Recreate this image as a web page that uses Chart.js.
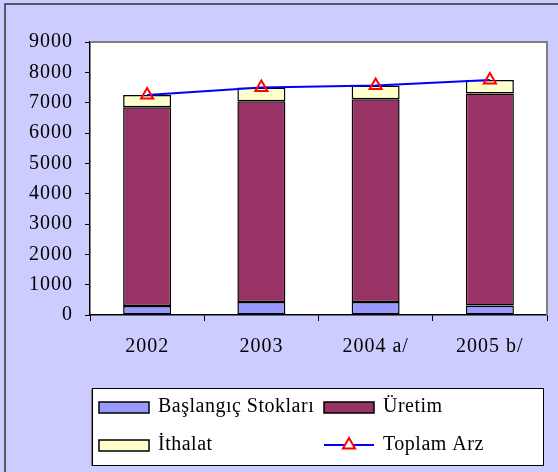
<!DOCTYPE html>
<html lang="tr">
<head>
  <meta charset="UTF-8">
  <title>Toplam Arz</title>
  <style>
    body { margin: 0; background: #ccccff; }
    #wrap { position: relative; width: 558px; height: 472px; }
  </style>
  <script src="https://cdn.jsdelivr.net/npm/chart.js"></script>
</head>
<body>
  <div id="wrap"><canvas id="chart" width="558" height="472"></canvas></div>
  <script>
    // values
    const years = ['2002', '2003', '2004 a/', '2005 b/'];
    const stoklar = [300, 430, 430, 310];
    const uretim = [6550, 6620, 6680, 6990];
    const ithalat = [400, 450, 460, 450];
    const toplamArz = [7250, 7500, 7570, 7750];
    const yTicks = [0, 1000, 2000, 3000, 4000, 5000, 6000, 7000, 8000, 9000];

    const FONT = 'Liberation Serif, Times New Roman, serif';

    // background, plot frame and legend box
    const decor = {
      id: 'decor',
      beforeDraw(chart) {
        const ctx = chart.ctx;
        const a = chart.chartArea;
        ctx.letterSpacing = '1px';
        ctx.save();
        ctx.fillStyle = '#ccccff';
        ctx.fillRect(0, 0, chart.width, chart.height);
        ctx.strokeStyle = '#333';
        ctx.lineWidth = 1.5;
        ctx.beginPath();
        ctx.moveTo(5, chart.height);
        ctx.lineTo(5, 4);
        ctx.lineTo(chart.width, 4);
        ctx.stroke();
        ctx.fillStyle = '#fff';
        ctx.fillRect(a.left, a.top, a.right - a.left, a.bottom - a.top);
        ctx.restore();
      },
      afterDatasetsDraw(chart) {
        const ctx = chart.ctx;
        const a = chart.chartArea;
        ctx.save();
        ctx.strokeStyle = '#808080';
        ctx.lineWidth = 2;
        ctx.beginPath();
        ctx.moveTo(a.left, a.top);
        ctx.lineTo(a.right, a.top);
        ctx.lineTo(a.right, a.bottom);
        ctx.stroke();
        ctx.restore();
      },
      afterDraw(chart) {
        const ctx = chart.ctx;
        ctx.save();
        // legend frame
        ctx.fillStyle = '#808080';
        ctx.fillRect(91, 389, 2, 77);
        ctx.fillStyle = '#fff';
        ctx.fillRect(92, 388, 451, 77);
        ctx.strokeStyle = '#000';
        ctx.lineWidth = 1;
        ctx.strokeRect(92.5, 388.5, 451, 77);
        const cells = [
          { ds: 0, x: 99, y: 407 },
          { ds: 1, x: 324, y: 407 },
          { ds: 2, x: 99, y: 445 },
          { ds: 3, x: 324, y: 445 }
        ];
        ctx.font = '20px ' + FONT;
        ctx.letterSpacing = '0.5px';
        ctx.textBaseline = 'middle';
        ctx.textAlign = 'left';
        cells.forEach(c => {
          const ds = chart.data.datasets[c.ds];
          if (ds.type === 'line') {
            ctx.strokeStyle = ds.borderColor;
            ctx.lineWidth = 2;
            ctx.beginPath();
            ctx.moveTo(c.x, c.y);
            ctx.lineTo(c.x + 50, c.y);
            ctx.stroke();
            const cx = c.x + 25, cy = c.y, r = 7;
            ctx.fillStyle = '#fff';
            ctx.strokeStyle = ds.pointBorderColor;
            ctx.beginPath();
            for (let i = 0; i < 3; i++) {
              const ang = i * 2 * Math.PI / 3;
              const px = cx + Math.sin(ang) * r, py = cy - Math.cos(ang) * r;
              if (i === 0) ctx.moveTo(px, py); else ctx.lineTo(px, py);
            }
            ctx.closePath();
            ctx.fill();
            ctx.stroke();
          } else {
            ctx.fillStyle = ds.backgroundColor;
            ctx.fillRect(c.x, c.y - 5, 50, 11);
            ctx.strokeStyle = '#000';
            ctx.lineWidth = 1.5;
            ctx.strokeRect(c.x, c.y - 5, 50, 11);
          }
          ctx.fillStyle = '#000';
          ctx.fillText(ds.label, c.x + 59, c.y);
        });
        ctx.restore();
      }
    };

    new Chart(document.getElementById('chart'), {
      data: {
        labels: years,
        datasets: [
          {
            type: 'bar', label: 'Başlangıç Stokları', data: stoklar, stack: 's',
            backgroundColor: '#9999ff', borderColor: '#000', borderWidth: 1.5,
            borderSkipped: false, order: 1
          },
          {
            type: 'bar', label: 'Üretim', data: uretim, stack: 's',
            backgroundColor: '#993366', borderColor: '#000', borderWidth: 1.5,
            borderSkipped: false, order: 1
          },
          {
            type: 'bar', label: 'İthalat', data: ithalat, stack: 's',
            backgroundColor: '#ffffcc', borderColor: '#000', borderWidth: 1.5,
            borderSkipped: false, order: 1
          },
          {
            type: 'line', label: 'Toplam Arz', data: toplamArz, stack: 't',
            borderColor: '#0000ff', borderWidth: 2, tension: 0,
            pointStyle: 'triangle', pointRadius: 7, pointBorderWidth: 2,
            pointBorderColor: '#ff0000', pointBackgroundColor: 'rgba(255,255,255,0)',
            order: 0
          }
        ]
      },
      options: {
        responsive: false,
        animation: false,
        layout: { padding: { top: 42, right: 11, left: 0, bottom: 0 } },
        datasets: { bar: { barPercentage: 0.42, categoryPercentage: 1 } },
        plugins: { legend: { display: false }, tooltip: { enabled: false } },
        scales: {
          x: {
            stacked: true,
            afterFit(s) { s.height = 157; },
            grid: { offset: true, drawOnChartArea: false, tickLength: 6, color: '#000', lineWidth: 1 },
            border: { color: '#000', width: 1.5 },
            ticks: { color: '#000', font: { family: FONT, size: 20 }, padding: 14 }
          },
          y: {
            stacked: true,
            min: 0, max: 9000,
            afterFit(s) { s.width = 90; },
            afterBuildTicks(s) { s.ticks = yTicks.map(v => ({ value: v })); },
            grid: { drawOnChartArea: false, tickLength: 5, color: '#000', lineWidth: 1 },
            border: { color: '#000', width: 1.5 },
            ticks: {
              color: '#000', font: { family: FONT, size: 20 }, padding: 12,
              callback: v => String(v)
            }
          }
        }
      },
      plugins: [decor]
    });
  </script>
</body>
</html>
